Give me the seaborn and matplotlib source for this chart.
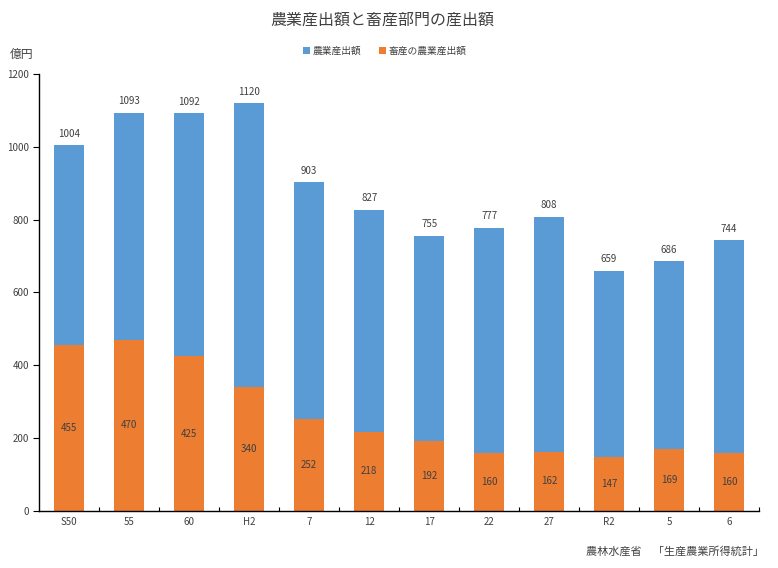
import matplotlib
matplotlib.use("Agg")
import matplotlib.pyplot as plt
import seaborn as sns
import pandas as pd

categories = ["S50", "55", "60", "H2", "7", "12", "17", "22", "27", "R2", "5", "6"]
total_values = [1004, 1093, 1092, 1120, 903, 827, 755, 777, 808, 659, 686, 744]
livestock_values = [455, 470, 425, 340, 252, 218, 192, 160, 162, 147, 169, 160]

sns.set_theme(style="white")
plt.rcParams['font.family'] = ['Noto Sans CJK JP', 'DejaVu Sans']

df = pd.DataFrame({"cat": categories, "total": total_values, "live": livestock_values})

fig = plt.figure(figsize=(7.78, 5.68), dpi=100)
ax = fig.add_axes([0.0505, 0.1004, 0.925, 0.7693])

blue = "#5B9BD5"
orange = "#ED7D31"
sns.barplot(data=df, x="cat", y="total", color=blue, width=0.5, ax=ax, saturation=1,
            label="農業産出額", linewidth=0, edgecolor="none")
sns.barplot(data=df, x="cat", y="live", color=orange, width=0.5, ax=ax, saturation=1,
            label="畜産の農業産出額", linewidth=0, edgecolor="none")

for i, (t, l) in enumerate(zip(total_values, livestock_values)):
    ax.text(i, t + 18, str(t), ha="center", va="bottom", fontsize=7, color="#404040")
    ax.text(i, l / 2, str(l), ha="center", va="center", fontsize=7, color="#404040")

ax.set_ylim(0, 1200)
ax.set_xlim(-0.5, 11.5)
ax.set_yticks(range(0, 1201, 200))
ax.set_xlabel("")
ax.set_ylabel("")
for s in ["top", "right"]:
    ax.spines[s].set_visible(False)
ax.spines["left"].set_color("black")
ax.spines["bottom"].set_color("black")
ax.spines["left"].set_linewidth(1.0)
ax.spines["bottom"].set_linewidth(1.0)
ax.tick_params(axis="y", which="major", direction="out", length=4, width=0.8, color="black",
               labelsize=7, labelcolor="#404040", left=True)
ax.set_xticks(range(len(categories)))
ax.set_xticklabels(categories)
ax.tick_params(axis="x", which="major", length=0, labelsize=7, labelcolor="#404040", pad=4)
ax.set_xticks([i + 0.5 for i in range(0, len(categories))], minor=True)
ax.tick_params(axis="x", which="minor", direction="in", length=3, width=0.8, color="black", bottom=True)

fig.text(0.492, 0.965, "農業産出額と畜産部門の産出額", ha="center", va="center", fontsize=11.5, color="#404040")
fig.text(0.012, 0.905, "億円", ha="left", va="center", fontsize=8.5, color="#404040")
fig.text(0.982, 0.03, "農林水産省　「生産農業所得統計」", ha="right", va="center", fontsize=8, color="#404040")

leg = ax.legend(loc="upper center", ncol=2, frameon=False, fontsize=7,
                handlelength=0.7, handleheight=0.7, handletextpad=0.3, columnspacing=1.8, labelcolor="#404040")
leg.set_bbox_to_anchor((0.495, 0.935), transform=fig.transFigure)

fig.savefig("out.png", dpi=100)
